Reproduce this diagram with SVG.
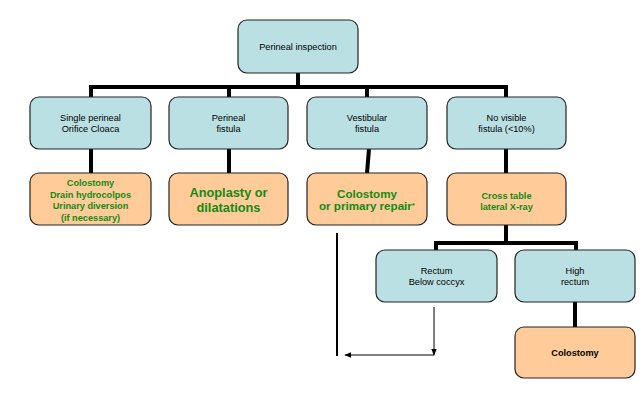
<svg xmlns="http://www.w3.org/2000/svg" width="644" height="403" viewBox="0 0 644 403">
<defs>
<style>
.b{fill:#BBE0E3;stroke:#222;stroke-width:1.2}
.o{fill:#FFCC99;stroke:#222;stroke-width:1.2}
text{font-family:"Liberation Sans",Arial,sans-serif;text-anchor:middle}
.t{font-size:9.2px;fill:#000}
.g{font-weight:bold;fill:#138A13}
.k{font-weight:bold;fill:#000;font-size:9.2px}
.thick{stroke:#000;stroke-width:4;fill:none}
.thin{stroke:#000;stroke-width:1;fill:none}
</style>
<marker id="ah" viewBox="0 0 10 10" refX="9" refY="5" markerWidth="7" markerHeight="7" orient="auto" markerUnits="userSpaceOnUse">
<path d="M0,1 L10,5 L0,9 z" fill="#000"/>
</marker>
</defs>
<rect width="644" height="403" fill="#fff"/>
<g id="connectors">
<path class="thick" d="M298,73 V87 M89,87 H508 M91,87 V97 M229,87 V97 M367,87 V97 M506,87 V97"/>
<path class="thick" d="M91,149 V173 M229,149 V173 M369,149 L367,173 M506,149 V173"/>
<path class="thick" d="M506,225 V243 M434,243 H578 M436,243 V250 M576,243 V250 M575,302 V327"/>
<path stroke="#000" stroke-width="2" fill="none" d="M337,233 V356"/>
<line class="thin" x1="434" y1="307" x2="434" y2="355" marker-end="url(#ah)"/>
<line class="thin" x1="434" y1="355" x2="345" y2="355" marker-end="url(#ah)"/>
</g>
<g id="n-inspection"><rect class="b" x="238" y="20" width="120" height="53" rx="9"/><text class="t" x="298" y="50">Perineal inspection</text></g>
<g id="n-single"><rect class="b" x="30" y="97" width="121" height="52" rx="9"/><text class="t" x="90.5" y="121">Single perineal</text><text class="t" x="90.5" y="132">Orifice Cloaca</text></g>
<g id="n-perineal"><rect class="b" x="169" y="97" width="119" height="52" rx="9"/><text class="t" x="228.5" y="121">Perineal</text><text class="t" x="228.5" y="132">fistula</text></g>
<g id="n-vestibular"><rect class="b" x="307" y="97" width="120" height="52" rx="9"/><text class="t" x="367" y="121">Vestibular</text><text class="t" x="367" y="132">fistula</text></g>
<g id="n-novisible"><rect class="b" x="447" y="97" width="119" height="52" rx="9"/><text class="t" x="506.5" y="121">No visible</text><text class="t" x="506.5" y="132">fistula (&lt;10%)</text></g>
<g id="n-colostomy1"><rect class="o" x="30" y="173" width="121" height="52" rx="9"/><text class="g" font-size="9.2" x="90.5" y="186">Colostomy</text><text class="g" font-size="9.2" x="90.5" y="197.5">Drain hydrocolpos</text><text class="g" font-size="9.2" x="90.5" y="209">Urinary diversion</text><text class="g" font-size="9.2" x="90.5" y="220.5">(if necessary)</text></g>
<g id="n-anoplasty"><rect class="o" x="169" y="173" width="119" height="52" rx="9"/><text class="g" font-size="12.8" x="228.5" y="197">Anoplasty or</text><text class="g" font-size="12.8" x="228.5" y="212">dilatations</text></g>
<g id="n-colostomy2"><rect class="o" x="307" y="173" width="120" height="52" rx="9"/><text class="g" font-size="11.6" x="367" y="197.5">Colostomy</text><text class="g" font-size="11.6" x="367" y="210">or primary repair<tspan font-size="8" dy="-2">*</tspan></text></g>
<g id="n-crosstable"><rect class="o" x="447" y="173" width="119" height="52" rx="9"/><text class="g" font-size="9.2" x="506.5" y="198.5">Cross table</text><text class="g" font-size="9.2" x="506.5" y="209.5">lateral X-ray</text></g>
<g id="n-rectum"><rect class="b" x="376" y="250" width="121" height="52" rx="9"/><text class="t" x="436.5" y="273.5">Rectum</text><text class="t" x="436.5" y="285">Below coccyx</text></g>
<g id="n-high"><rect class="b" x="515" y="250" width="120" height="52" rx="9"/><text class="t" x="575" y="273.5">High</text><text class="t" x="575" y="285">rectum</text></g>
<g id="n-colostomy3"><rect class="o" x="515" y="327" width="120" height="51" rx="9"/><text class="k" x="575" y="356">Colostomy</text></g>
</svg>
